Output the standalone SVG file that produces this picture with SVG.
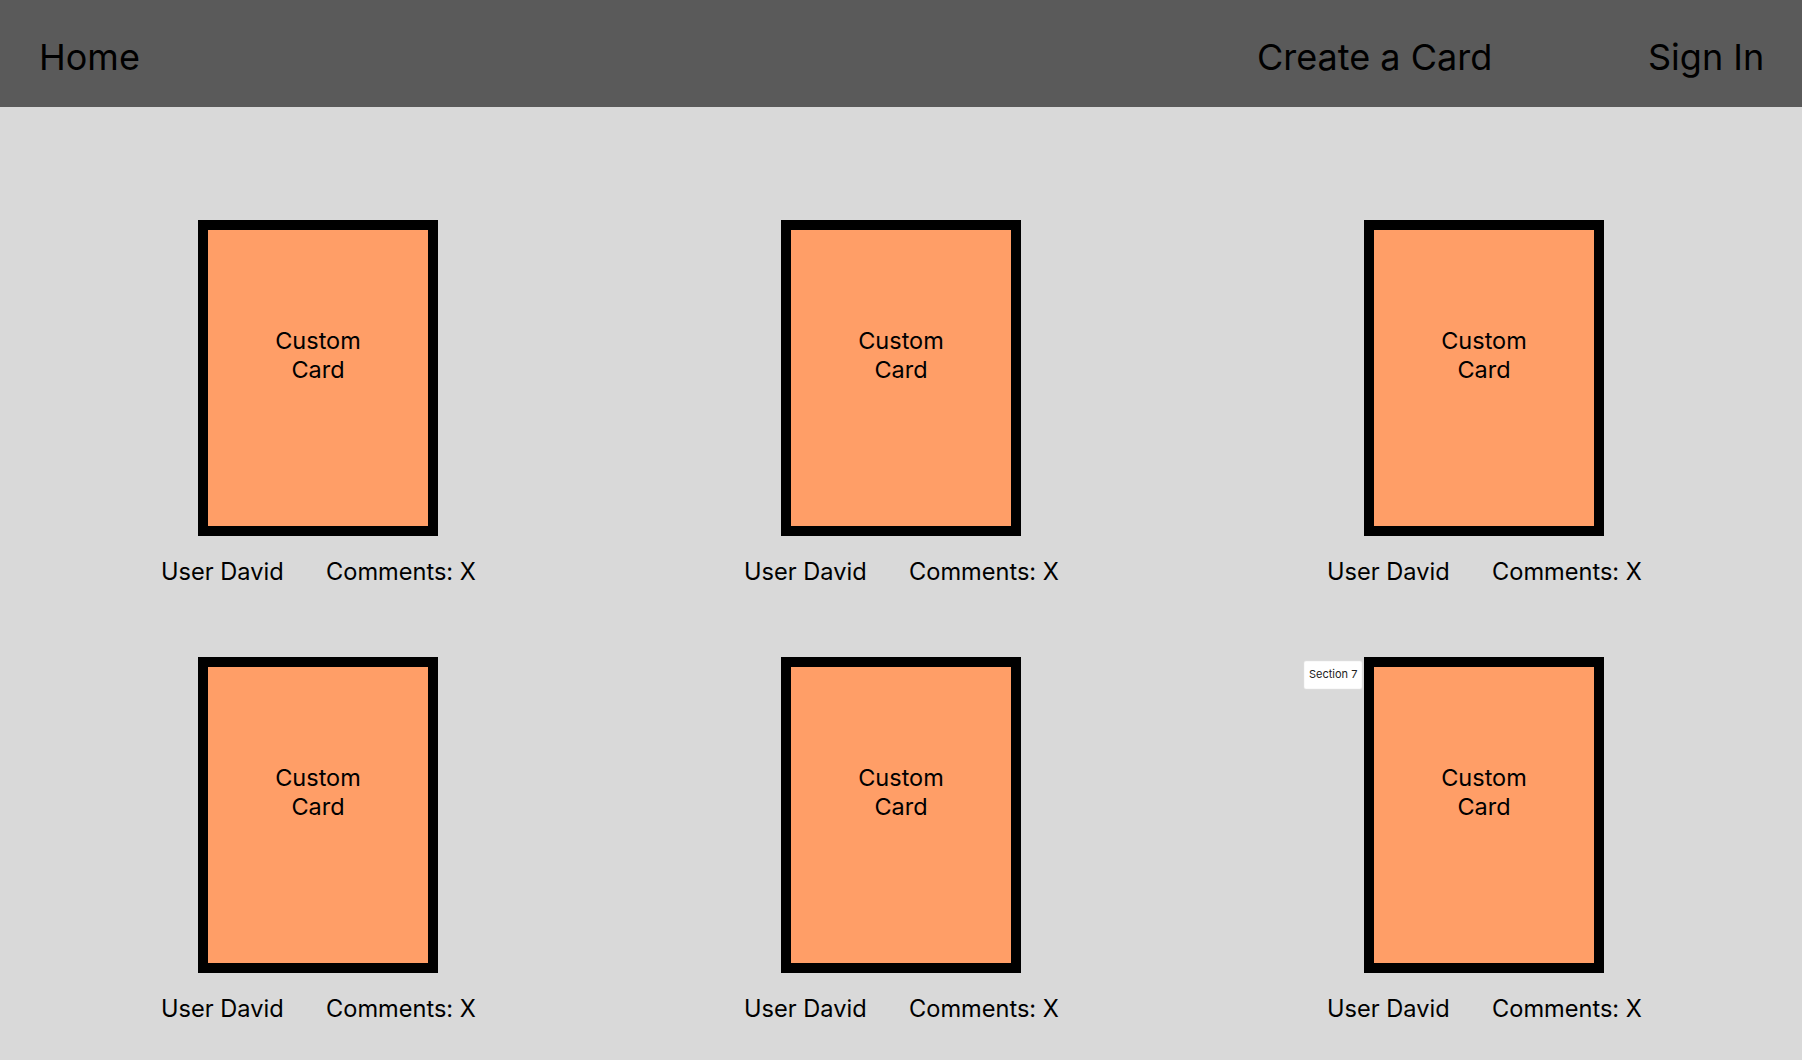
<svg xmlns="http://www.w3.org/2000/svg" width="1802" height="1060" viewBox="0 0 1802 1060">
<style>
text{font-family:Inter,"Noto Sans","Liberation Sans",sans-serif;fill:#000}
.nav{font-size:36px}
.card{fill:#ff9e67;stroke:#000;stroke-width:10}
.ct{font-size:23.5px;text-anchor:middle}
.meta{font-size:23.6px}
.tag{fill:#fff;stroke:#e6e6e6;stroke-width:0.5}
.tagt{font-size:11px;fill:#222}
</style>
<rect id="bg" x="0" y="0" width="1802" height="1060" fill="#d9d9d9"/>
<g id="header">
<rect x="0" y="0" width="1802" height="107" fill="#5a5a5a"/>
<text class="nav" x="39" y="70">Home</text>
<text class="nav" x="1257" y="70">Create a Card</text>
<text class="nav" x="1648" y="70">Sign In</text>
</g>
<g id="card1">
<rect class="card" x="203" y="225" width="230" height="306"/>
<text class="ct" x="318" y="349">Custom</text><text class="ct" x="318" y="378">Card</text>
<text class="meta" x="161" y="580">User David</text><text class="meta" x="326" y="580">Comments: X</text>
</g>
<g id="card2">
<rect class="card" x="786" y="225" width="230" height="306"/>
<text class="ct" x="901" y="349">Custom</text><text class="ct" x="901" y="378">Card</text>
<text class="meta" x="744" y="580">User David</text><text class="meta" x="909" y="580">Comments: X</text>
</g>
<g id="card3">
<rect class="card" x="1369" y="225" width="230" height="306"/>
<text class="ct" x="1484" y="349">Custom</text><text class="ct" x="1484" y="378">Card</text>
<text class="meta" x="1327" y="580">User David</text><text class="meta" x="1492" y="580">Comments: X</text>
</g>
<g id="card4">
<rect class="card" x="203" y="662" width="230" height="306"/>
<text class="ct" x="318" y="786">Custom</text><text class="ct" x="318" y="815">Card</text>
<text class="meta" x="161" y="1017">User David</text><text class="meta" x="326" y="1017">Comments: X</text>
</g>
<g id="card5">
<rect class="card" x="786" y="662" width="230" height="306"/>
<text class="ct" x="901" y="786">Custom</text><text class="ct" x="901" y="815">Card</text>
<text class="meta" x="744" y="1017">User David</text><text class="meta" x="909" y="1017">Comments: X</text>
</g>
<g id="card6">
<rect class="card" x="1369" y="662" width="230" height="306"/>
<text class="ct" x="1484" y="786">Custom</text><text class="ct" x="1484" y="815">Card</text>
<text class="meta" x="1327" y="1017">User David</text><text class="meta" x="1492" y="1017">Comments: X</text>
</g>
<g id="section7">
<rect class="tag" x="1304" y="661" width="58" height="28" rx="2"/>
<text class="tagt" x="1309" y="678">Section 7</text>
</g>
<g id="connectors"/>
</svg>
